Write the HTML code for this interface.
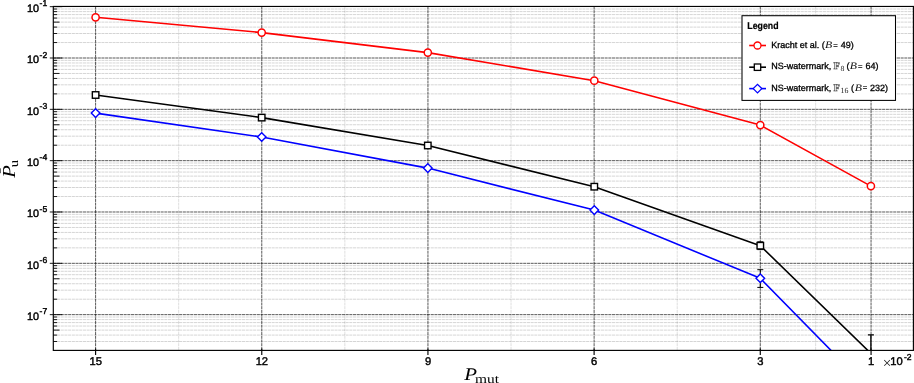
<!DOCTYPE html>
<html><head><meta charset="utf-8"><title>Chart</title>
<style>html,body{margin:0;padding:0;background:#fff;overflow:hidden}body{width:914px;height:383px;font-family:"Liberation Sans",sans-serif}</style></head>
<body>
<svg width="914" height="383" viewBox="0 0 914 383" text-rendering="geometricPrecision" style="display:block;will-change:transform;opacity:0.999">
<defs><clipPath id="cp"><rect x="53.3" y="6.45" width="860.1" height="343.95"/></clipPath></defs>
<g stroke="#000" stroke-opacity="0.25" stroke-width="0.7" stroke-dasharray="3.1 0.6" fill="none"><line x1="53.3" x2="913.4" y1="341.49" y2="341.49"/><line x1="53.3" x2="913.4" y1="335.08" y2="335.08"/><line x1="53.3" x2="913.4" y1="330.10" y2="330.10"/><line x1="53.3" x2="913.4" y1="326.04" y2="326.04"/><line x1="53.3" x2="913.4" y1="322.60" y2="322.60"/><line x1="53.3" x2="913.4" y1="319.62" y2="319.62"/><line x1="53.3" x2="913.4" y1="317.00" y2="317.00"/><line x1="53.3" x2="913.4" y1="299.20" y2="299.20"/><line x1="53.3" x2="913.4" y1="290.16" y2="290.16"/><line x1="53.3" x2="913.4" y1="283.75" y2="283.75"/><line x1="53.3" x2="913.4" y1="278.77" y2="278.77"/><line x1="53.3" x2="913.4" y1="274.71" y2="274.71"/><line x1="53.3" x2="913.4" y1="271.27" y2="271.27"/><line x1="53.3" x2="913.4" y1="268.29" y2="268.29"/><line x1="53.3" x2="913.4" y1="265.67" y2="265.67"/><line x1="53.3" x2="913.4" y1="247.87" y2="247.87"/><line x1="53.3" x2="913.4" y1="238.83" y2="238.83"/><line x1="53.3" x2="913.4" y1="232.42" y2="232.42"/><line x1="53.3" x2="913.4" y1="227.44" y2="227.44"/><line x1="53.3" x2="913.4" y1="223.38" y2="223.38"/><line x1="53.3" x2="913.4" y1="219.94" y2="219.94"/><line x1="53.3" x2="913.4" y1="216.96" y2="216.96"/><line x1="53.3" x2="913.4" y1="214.34" y2="214.34"/><line x1="53.3" x2="913.4" y1="196.54" y2="196.54"/><line x1="53.3" x2="913.4" y1="187.50" y2="187.50"/><line x1="53.3" x2="913.4" y1="181.09" y2="181.09"/><line x1="53.3" x2="913.4" y1="176.11" y2="176.11"/><line x1="53.3" x2="913.4" y1="172.05" y2="172.05"/><line x1="53.3" x2="913.4" y1="168.61" y2="168.61"/><line x1="53.3" x2="913.4" y1="165.63" y2="165.63"/><line x1="53.3" x2="913.4" y1="163.01" y2="163.01"/><line x1="53.3" x2="913.4" y1="145.21" y2="145.21"/><line x1="53.3" x2="913.4" y1="136.17" y2="136.17"/><line x1="53.3" x2="913.4" y1="129.76" y2="129.76"/><line x1="53.3" x2="913.4" y1="124.78" y2="124.78"/><line x1="53.3" x2="913.4" y1="120.72" y2="120.72"/><line x1="53.3" x2="913.4" y1="117.28" y2="117.28"/><line x1="53.3" x2="913.4" y1="114.30" y2="114.30"/><line x1="53.3" x2="913.4" y1="111.68" y2="111.68"/><line x1="53.3" x2="913.4" y1="93.88" y2="93.88"/><line x1="53.3" x2="913.4" y1="84.84" y2="84.84"/><line x1="53.3" x2="913.4" y1="78.43" y2="78.43"/><line x1="53.3" x2="913.4" y1="73.45" y2="73.45"/><line x1="53.3" x2="913.4" y1="69.39" y2="69.39"/><line x1="53.3" x2="913.4" y1="65.95" y2="65.95"/><line x1="53.3" x2="913.4" y1="62.97" y2="62.97"/><line x1="53.3" x2="913.4" y1="60.35" y2="60.35"/><line x1="53.3" x2="913.4" y1="42.55" y2="42.55"/><line x1="53.3" x2="913.4" y1="33.51" y2="33.51"/><line x1="53.3" x2="913.4" y1="27.10" y2="27.10"/><line x1="53.3" x2="913.4" y1="22.12" y2="22.12"/><line x1="53.3" x2="913.4" y1="18.06" y2="18.06"/><line x1="53.3" x2="913.4" y1="14.62" y2="14.62"/><line x1="53.3" x2="913.4" y1="11.64" y2="11.64"/><line x1="53.3" x2="913.4" y1="9.02" y2="9.02"/></g>
<g stroke="#000" stroke-opacity="0.2" stroke-width="0.7" stroke-dasharray="3.1 0.6" fill="none"><line x1="178.69" x2="178.69" y1="6.45" y2="350.4"/><line x1="344.86" x2="344.86" y1="6.45" y2="350.4"/><line x1="511.02" x2="511.02" y1="6.45" y2="350.4"/><line x1="677.20" x2="677.20" y1="6.45" y2="350.4"/><line x1="815.67" x2="815.67" y1="6.45" y2="350.4"/></g>
<g stroke="#000" stroke-opacity="0.66" stroke-width="1" stroke-dasharray="3.1 0.6" fill="none"><line x1="53.3" x2="913.4" y1="314.65" y2="314.65"/><line x1="53.3" x2="913.4" y1="263.32" y2="263.32"/><line x1="53.3" x2="913.4" y1="211.99" y2="211.99"/><line x1="53.3" x2="913.4" y1="160.66" y2="160.66"/><line x1="53.3" x2="913.4" y1="109.33" y2="109.33"/><line x1="53.3" x2="913.4" y1="58.00" y2="58.00"/><line x1="95.60" x2="95.60" y1="6.45" y2="350.4"/><line x1="261.77" x2="261.77" y1="6.45" y2="350.4"/><line x1="427.94" x2="427.94" y1="6.45" y2="350.4"/><line x1="594.11" x2="594.11" y1="6.45" y2="350.4"/><line x1="760.28" x2="760.28" y1="6.45" y2="350.4"/><line x1="871.06" x2="871.06" y1="6.45" y2="350.4"/></g>
<g stroke="#000" stroke-width="0.9" fill="none"><line x1="53.3" x2="57.099999999999994" y1="341.49" y2="341.49"/><line x1="53.3" x2="57.099999999999994" y1="335.08" y2="335.08"/><line x1="53.3" x2="59.5" y1="330.10" y2="330.10"/><line x1="53.3" x2="57.099999999999994" y1="326.04" y2="326.04"/><line x1="53.3" x2="57.099999999999994" y1="322.60" y2="322.60"/><line x1="53.3" x2="57.099999999999994" y1="319.62" y2="319.62"/><line x1="53.3" x2="57.099999999999994" y1="317.00" y2="317.00"/><line x1="53.3" x2="57.099999999999994" y1="299.20" y2="299.20"/><line x1="53.3" x2="57.099999999999994" y1="290.16" y2="290.16"/><line x1="53.3" x2="57.099999999999994" y1="283.75" y2="283.75"/><line x1="53.3" x2="59.5" y1="278.77" y2="278.77"/><line x1="53.3" x2="57.099999999999994" y1="274.71" y2="274.71"/><line x1="53.3" x2="57.099999999999994" y1="271.27" y2="271.27"/><line x1="53.3" x2="57.099999999999994" y1="268.29" y2="268.29"/><line x1="53.3" x2="57.099999999999994" y1="265.67" y2="265.67"/><line x1="53.3" x2="57.099999999999994" y1="247.87" y2="247.87"/><line x1="53.3" x2="57.099999999999994" y1="238.83" y2="238.83"/><line x1="53.3" x2="57.099999999999994" y1="232.42" y2="232.42"/><line x1="53.3" x2="59.5" y1="227.44" y2="227.44"/><line x1="53.3" x2="57.099999999999994" y1="223.38" y2="223.38"/><line x1="53.3" x2="57.099999999999994" y1="219.94" y2="219.94"/><line x1="53.3" x2="57.099999999999994" y1="216.96" y2="216.96"/><line x1="53.3" x2="57.099999999999994" y1="214.34" y2="214.34"/><line x1="53.3" x2="57.099999999999994" y1="196.54" y2="196.54"/><line x1="53.3" x2="57.099999999999994" y1="187.50" y2="187.50"/><line x1="53.3" x2="57.099999999999994" y1="181.09" y2="181.09"/><line x1="53.3" x2="59.5" y1="176.11" y2="176.11"/><line x1="53.3" x2="57.099999999999994" y1="172.05" y2="172.05"/><line x1="53.3" x2="57.099999999999994" y1="168.61" y2="168.61"/><line x1="53.3" x2="57.099999999999994" y1="165.63" y2="165.63"/><line x1="53.3" x2="57.099999999999994" y1="163.01" y2="163.01"/><line x1="53.3" x2="57.099999999999994" y1="145.21" y2="145.21"/><line x1="53.3" x2="57.099999999999994" y1="136.17" y2="136.17"/><line x1="53.3" x2="57.099999999999994" y1="129.76" y2="129.76"/><line x1="53.3" x2="59.5" y1="124.78" y2="124.78"/><line x1="53.3" x2="57.099999999999994" y1="120.72" y2="120.72"/><line x1="53.3" x2="57.099999999999994" y1="117.28" y2="117.28"/><line x1="53.3" x2="57.099999999999994" y1="114.30" y2="114.30"/><line x1="53.3" x2="57.099999999999994" y1="111.68" y2="111.68"/><line x1="53.3" x2="57.099999999999994" y1="93.88" y2="93.88"/><line x1="53.3" x2="57.099999999999994" y1="84.84" y2="84.84"/><line x1="53.3" x2="57.099999999999994" y1="78.43" y2="78.43"/><line x1="53.3" x2="59.5" y1="73.45" y2="73.45"/><line x1="53.3" x2="57.099999999999994" y1="69.39" y2="69.39"/><line x1="53.3" x2="57.099999999999994" y1="65.95" y2="65.95"/><line x1="53.3" x2="57.099999999999994" y1="62.97" y2="62.97"/><line x1="53.3" x2="57.099999999999994" y1="60.35" y2="60.35"/><line x1="53.3" x2="57.099999999999994" y1="42.55" y2="42.55"/><line x1="53.3" x2="57.099999999999994" y1="33.51" y2="33.51"/><line x1="53.3" x2="57.099999999999994" y1="27.10" y2="27.10"/><line x1="53.3" x2="59.5" y1="22.12" y2="22.12"/><line x1="53.3" x2="57.099999999999994" y1="18.06" y2="18.06"/><line x1="53.3" x2="57.099999999999994" y1="14.62" y2="14.62"/><line x1="53.3" x2="57.099999999999994" y1="11.64" y2="11.64"/><line x1="53.3" x2="57.099999999999994" y1="9.02" y2="9.02"/><line x1="49.8" x2="62.3" y1="314.65" y2="314.65"/><line x1="49.8" x2="62.3" y1="263.32" y2="263.32"/><line x1="49.8" x2="62.3" y1="211.99" y2="211.99"/><line x1="49.8" x2="62.3" y1="160.66" y2="160.66"/><line x1="49.8" x2="62.3" y1="109.33" y2="109.33"/><line x1="49.8" x2="62.3" y1="58.00" y2="58.00"/><line x1="49.8" x2="62.3" y1="6.67" y2="6.67"/><line x1="95.60" x2="95.60" y1="348.4" y2="354.9" stroke-width="1.15"/><line x1="261.77" x2="261.77" y1="348.4" y2="354.9" stroke-width="1.15"/><line x1="427.94" x2="427.94" y1="348.4" y2="354.9" stroke-width="1.15"/><line x1="594.11" x2="594.11" y1="348.4" y2="354.9" stroke-width="1.15"/><line x1="760.28" x2="760.28" y1="348.4" y2="354.9" stroke-width="1.15"/><line x1="871.06" x2="871.06" y1="348.4" y2="354.9" stroke-width="1.15"/></g>
<g clip-path="url(#cp)">
<g stroke="#000" stroke-width="1" fill="none"><path d="M760.3 241.8V249.6M757.3 241.8H763.3M757.3 249.6H763.3"/><path d="M760.3 269.7V287.4M757.3 269.7H763.3M757.3 287.4H763.3"/></g><g stroke="#000" stroke-width="1.3" fill="none"><path d="M870.9 334.9V380M867.9 334.9H873.9M867.9 380H873.9"/></g>
<polyline points="95.6,113.1 261.7,137.0 427.8,168.1 594.3,210.1 760.3,278.3 870.9,391.1" fill="none" stroke="#0000ff" stroke-width="1.58" stroke-linejoin="round"/>
<polyline points="95.6,95.0 261.7,117.6 427.8,145.5 594.3,186.7 760.3,245.7 870.9,353.4" fill="none" stroke="#000" stroke-width="1.58" stroke-linejoin="round"/>
<polyline points="95.6,17.3 261.7,32.6 427.8,52.6 594.3,80.7 760.3,125.1 870.9,186.1" fill="none" stroke="#ff0000" stroke-width="1.58" stroke-linejoin="round"/>
</g>
<g fill="#fff" stroke="#0000ff" stroke-width="1.4"><path d="M91.3 113.1L95.6 108.8L99.89999999999999 113.1L95.6 117.39999999999999Z"/><path d="M257.4 137.0L261.7 132.7L266.0 137.0L261.7 141.3Z"/><path d="M423.5 168.1L427.8 163.79999999999998L432.1 168.1L427.8 172.4Z"/><path d="M590.0 210.1L594.3 205.79999999999998L598.5999999999999 210.1L594.3 214.4Z"/><path d="M756.0 278.3L760.3 274.0L764.5999999999999 278.3L760.3 282.6Z"/></g>
<g fill="#fff" stroke="#000" stroke-width="1.4"><rect x="92.35" y="91.75" width="6.5" height="6.5"/><rect x="258.45" y="114.35" width="6.5" height="6.5"/><rect x="424.55" y="142.25" width="6.5" height="6.5"/><rect x="591.05" y="183.45" width="6.5" height="6.5"/><rect x="757.05" y="242.45" width="6.5" height="6.5"/></g>
<g fill="#fff" stroke="#ff0000" stroke-width="1.5"><circle cx="95.6" cy="17.3" r="3.6"/><circle cx="261.7" cy="32.6" r="3.6"/><circle cx="427.8" cy="52.6" r="3.6"/><circle cx="594.3" cy="80.7" r="3.6"/><circle cx="760.3" cy="125.1" r="3.6"/><circle cx="870.9" cy="186.1" r="3.6"/></g>
<rect x="53.3" y="6.45" width="860.1" height="343.95" fill="none" stroke="#000" stroke-width="1.15"/>
<g font-family="Liberation Sans, sans-serif" fill="#000" stroke="#000" stroke-width="0.43"><text x="39" y="319.90" text-anchor="end" font-size="10.8">10</text><text x="39.6" y="314.35" font-size="8.6">-7</text><text x="39" y="268.57" text-anchor="end" font-size="10.8">10</text><text x="39.6" y="263.02" font-size="8.6">-6</text><text x="39" y="217.24" text-anchor="end" font-size="10.8">10</text><text x="39.6" y="211.69" font-size="8.6">-5</text><text x="39" y="165.91" text-anchor="end" font-size="10.8">10</text><text x="39.6" y="160.36" font-size="8.6">-4</text><text x="39" y="114.58" text-anchor="end" font-size="10.8">10</text><text x="39.6" y="109.03" font-size="8.6">-3</text><text x="39" y="63.25" text-anchor="end" font-size="10.8">10</text><text x="39.6" y="57.70" font-size="8.6">-2</text><text x="39" y="11.92" text-anchor="end" font-size="10.8">10</text><text x="39.6" y="6.37" font-size="8.6">-1</text><text x="95.70" y="364.7" text-anchor="middle" font-size="11.2">15</text><text x="261.87" y="364.7" text-anchor="middle" font-size="11.2">12</text><text x="428.04" y="364.7" text-anchor="middle" font-size="11.2">9</text><text x="594.21" y="364.7" text-anchor="middle" font-size="11.2">6</text><text x="760.38" y="364.7" text-anchor="middle" font-size="11.2">3</text><text x="871.16" y="364.7" text-anchor="middle" font-size="11.2">1</text><text x="890.2" y="364.9" font-size="11.2">10</text><text x="882.8" y="367.5" font-size="15.3" font-family="Liberation Serif, serif" stroke-width="0" fill="#111">×</text><text x="903.9" y="360.0" font-size="8.6">-2</text></g>
<g font-family="Liberation Serif, serif" fill="#000"><text x="464.2" y="380.1" font-size="17.8" font-style="italic" textLength="12.8" lengthAdjust="spacingAndGlyphs">P</text><text x="475.0" y="382.8" font-size="12.6" textLength="24" lengthAdjust="spacingAndGlyphs">mut</text></g>
<g font-family="Liberation Serif, serif" fill="#000" transform="translate(15.0,177.8) rotate(-90)"><text x="0" y="0" font-size="18.3" font-style="italic" textLength="12.6" lengthAdjust="spacingAndGlyphs">P</text><text x="10.6" y="2.6" font-size="12.6" textLength="7.4" lengthAdjust="spacingAndGlyphs">u</text><rect x="4.6" y="-15.3" width="4.9" height="0.9" /></g>
<rect x="742.0" y="15.7" width="153.5" height="84.7" fill="#fff" stroke="#000" stroke-width="1.05"/>
<text font-family="Liberation Sans, sans-serif" x="747.3" y="29.3" font-size="9.9" font-weight="bold" stroke="#000" stroke-width="0.2" textLength="31.2" lengthAdjust="spacingAndGlyphs">Legend</text>
<line x1="749.2" x2="766" y1="45.5" y2="45.5" stroke="#ff0000" stroke-width="1.6"/>
<g fill="#fff" stroke="#ff0000" stroke-width="1.3"><circle cx="757.5" cy="45.5" r="3.5"/></g>
<line x1="749.2" x2="766" y1="67.2" y2="67.2" stroke="#000" stroke-width="1.6"/>
<g fill="#fff" stroke="#000" stroke-width="1.3"><rect x="754.3" y="64.0" width="6.4" height="6.4"/></g>
<line x1="749.2" x2="766" y1="88.6" y2="88.6" stroke="#0000ff" stroke-width="1.6"/>
<g fill="#fff" stroke="#0000ff" stroke-width="1.3"><path d="M753.2 88.6L757.5 84.3L761.8 88.6L757.5 92.89999999999999Z"/></g>
<text x="771.2" y="47.9" font-size="9.0" font-family="Liberation Sans, sans-serif" stroke="#000" stroke-width="0.3" >Kracht et al. (</text>
<text x="825.1" y="47.9" font-size="10" font-family="Liberation Serif, serif" font-style="italic" fill="#111" textLength="7.2" lengthAdjust="spacingAndGlyphs">B</text>
<text x="833.35" y="47.55" font-size="7.7" font-family="Liberation Sans, sans-serif" stroke="#000" stroke-width="0.2">=</text>
<text x="840.7" y="47.9" font-size="9.0" font-family="Liberation Sans, sans-serif" stroke="#000" stroke-width="0.3" >49)</text>
<text x="771.2" y="69.4" font-size="9.0" font-family="Liberation Sans, sans-serif" stroke="#000" stroke-width="0.3" >NS-watermark,</text>
<text x="833.5" y="69.30000000000001" font-size="9.8" font-family="Liberation Serif, serif" font-weight="bold" fill="#fff" stroke="#2a2a2a" stroke-width="0.5" textLength="6.3" lengthAdjust="spacingAndGlyphs">F</text>
<text x="840.5" y="71.3" font-size="7.8" font-family="Liberation Serif, serif" fill="#222">8</text>
<text x="846.5" y="69.4" font-size="9.0" font-family="Liberation Sans, sans-serif" stroke="#000" stroke-width="0.3" >(</text>
<text x="849.8" y="69.4" font-size="10" font-family="Liberation Serif, serif" font-style="italic" fill="#111" textLength="7.2" lengthAdjust="spacingAndGlyphs">B</text>
<text x="857.9499999999999" y="69.05000000000001" font-size="7.7" font-family="Liberation Sans, sans-serif" stroke="#000" stroke-width="0.2">=</text>
<text x="865.4" y="69.4" font-size="9.0" font-family="Liberation Sans, sans-serif" stroke="#000" stroke-width="0.3" >64)</text>
<text x="771.2" y="90.7" font-size="9.0" font-family="Liberation Sans, sans-serif" stroke="#000" stroke-width="0.3" >NS-watermark,</text>
<text x="833.5" y="90.60000000000001" font-size="9.8" font-family="Liberation Serif, serif" font-weight="bold" fill="#fff" stroke="#2a2a2a" stroke-width="0.5" textLength="6.3" lengthAdjust="spacingAndGlyphs">F</text>
<text x="840.5" y="92.6" font-size="7.8" font-family="Liberation Serif, serif" fill="#222">16</text>
<text x="851.1" y="90.7" font-size="9.0" font-family="Liberation Sans, sans-serif" stroke="#000" stroke-width="0.3" >(</text>
<text x="854.7" y="90.7" font-size="10" font-family="Liberation Serif, serif" font-style="italic" fill="#111" textLength="7.2" lengthAdjust="spacingAndGlyphs">B</text>
<text x="862.85" y="90.35000000000001" font-size="7.7" font-family="Liberation Sans, sans-serif" stroke="#000" stroke-width="0.2">=</text>
<text x="870.1" y="90.7" font-size="9.0" font-family="Liberation Sans, sans-serif" stroke="#000" stroke-width="0.3" >232)</text>
</svg>
</body></html>
